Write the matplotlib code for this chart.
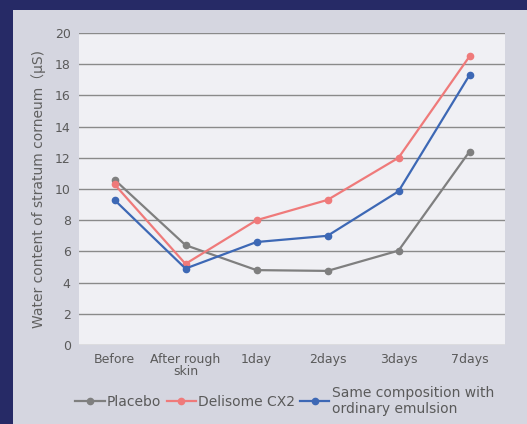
import matplotlib.pyplot as plt
from matplotlib.patches import Rectangle

categories = ["Before", "After rough\nskin", "1day", "2days", "3days", "7days"]
placebo = [10.6, 6.4, 4.8, 4.75, 6.05, 12.4]
delisome = [10.3, 5.2, 8.0, 9.3, 12.0, 18.5]
ordinary = [9.3, 4.9, 6.6, 7.0, 9.85, 17.3]
yticks = [0, 2, 4, 6, 8, 10, 12, 14, 16, 18, 20]

plt.rcParams['font.family'] = ['DejaVu Sans', 'Noto Sans CJK JP']
txt = '#5a5a5a'

fig = plt.figure(figsize=(5.27, 4.24), dpi=100)
fig.patch.set_facecolor('#262a66')
# light panel behind the chart
fig.patches.append(Rectangle((13/527, 0), 1, 1 - 10/424, transform=fig.transFigure,
                             facecolor='#d5d6e0', edgecolor='none', zorder=-10))

ax = fig.add_axes([79/527, 1 - 345/424, 426/527, 312/424])
ax.set_zorder(2)
ax.set_facecolor('#f0f0f4')
x = range(len(categories))
ax.plot(x, placebo, color='#7f7f7f', lw=1.6, marker='o', ms=4.5, label='Placebo')
ax.plot(x, delisome, color='#ef7a7a', lw=1.6, marker='o', ms=4.5, label='Delisome CX2')
ax.plot(x, ordinary, color='#3d68b5', lw=1.6, marker='o', ms=4.5,
        label='Same composition with\nordinary emulsion')

ax.set_xlim(-0.5, 5.5)
ax.set_ylim(0, 20)
ax.set_yticks(yticks)
ax.set_xticks(list(x))
ax.set_xticklabels(categories, linespacing=0.9)
ax.grid(axis='y', color='#8a8a8a', lw=1)
ax.set_axisbelow(True)
for s in ax.spines.values():
    s.set_visible(False)
ax.tick_params(length=0, colors=txt, labelsize=9, pad=6)
ax.set_ylabel('Water content of stratum corneum（μS)', color='#606060', fontsize=10, labelpad=6)

leg = fig.legend(loc='lower center', bbox_to_anchor=(0.54, -0.01), ncol=3, frameon=False,
                 fontsize=10, labelcolor=txt, handlelength=2.1, handletextpad=0.15,
                 columnspacing=0.4)
leg.set_zorder(3)

fig.savefig('out.png', dpi=100, facecolor=fig.get_facecolor())
